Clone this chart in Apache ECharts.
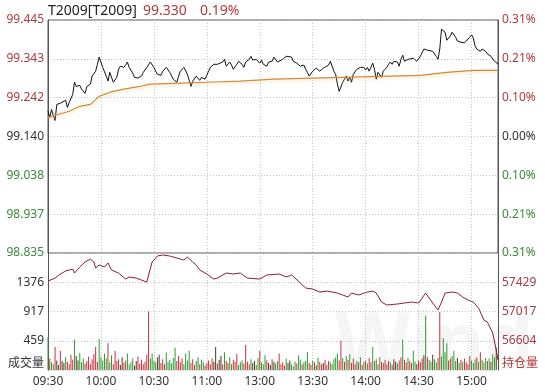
<!DOCTYPE html>
<html>
<head>
<meta charset="utf-8">
<script src="https://cdn.jsdelivr.net/npm/echarts@6/dist/echarts.min.js"></script>
<style>
html,body{margin:0;padding:0;background:#fff;}
#main{width:545px;height:392px;}
</style>
</head>
<body>
<div id="main"></div>
<script>
var timeLabels = ['09:30','10:00','10:30','11:00','13:00','13:30','14:00','14:30','15:00'];
var priceTicks = ['98.835','98.937','99.038','99.140','99.242','99.343','99.445'];
var pctTicks = ['0.31%','0.21%','0.10%','0.00%','0.10%','0.21%','0.31%'];
var volTicks = ['','459','917','1376',''];
var oiTicks = ['','56604','57017','57429',''];
var preClose = 99.140;

// minute index (0 = 09:30, 120 = 11:30/13:00, 255 = 15:15)
var priceMin = [0,1,2,3,4,5,7,8,10,11,12,14,15,16,18,19,21,22,24,25,27,28,29,31,33,34,35,37,39,40,
  41,43,44,45,46,48,49,51,53,54,56,58,60,61,62,64,65,67,69,71,73,74,75,77,79,80,81,82,84,86,
  87,89,91,92,94,96,97,99,100,101,103,104,105,107,108,110,111,112,114,115,116,118,119,120,121,122,124,125,127,128,
  129,130,131,133,135,136,138,139,141,142,143,144,145,146,147,148,150,151,152,153,154,156,157,159,160,161,162,163,164,165,
  167,168,169,170,171,172,173,175,176,177,178,179,180,181,182,184,185,186,187,188,189,190,192,193,194,195,196,198,199,200,
  201,202,204,205,207,208,209,210,211,213,214,215,216,218,219,220,221,222,223,224,225,226,227,228,229,231,232,233,234,235,
  236,237,239,240,241,242,243,244,245,246,248,249,250,251,252,253,254,255];
var priceVal = [99.206,99.190,99.211,99.195,99.182,99.224,99.227,99.232,99.235,99.216,99.229,99.250,99.282,99.271,99.274,99.264,99.253,99.271,99.277,99.298,99.311,99.329,99.348,99.321,99.298,99.285,99.308,99.282,99.295,99.316,
  99.324,99.321,99.327,99.335,99.321,99.306,99.295,99.293,99.298,99.308,99.321,99.335,99.321,99.311,99.303,99.300,99.311,99.321,99.308,99.290,99.282,99.298,99.311,99.321,99.303,99.287,99.271,99.285,99.298,99.287,
  99.295,99.290,99.311,99.321,99.329,99.329,99.332,99.335,99.342,99.324,99.335,99.327,99.316,99.329,99.337,99.329,99.321,99.335,99.342,99.350,99.340,99.342,99.337,99.332,99.340,99.329,99.324,99.335,99.337,99.348,
  99.350,99.335,99.332,99.342,99.350,99.345,99.348,99.337,99.332,99.337,99.324,99.319,99.327,99.316,99.308,99.298,99.311,99.306,99.319,99.321,99.311,99.319,99.321,99.327,99.337,99.324,99.311,99.303,99.277,99.258,
  99.282,99.277,99.298,99.285,99.295,99.282,99.303,99.316,99.311,99.321,99.316,99.321,99.314,99.321,99.311,99.332,99.316,99.290,99.308,99.303,99.295,99.311,99.321,99.329,99.335,99.329,99.337,99.335,99.324,99.342,
  99.353,99.337,99.342,99.337,99.345,99.340,99.337,99.337,99.350,99.369,99.369,99.366,99.369,99.363,99.361,99.350,99.342,99.369,99.421,99.416,99.413,99.392,99.387,99.403,99.413,99.400,99.390,99.390,99.387,99.392,
  99.385,99.390,99.400,99.406,99.398,99.377,99.369,99.374,99.363,99.369,99.363,99.356,99.361,99.350,99.348,99.337,99.332,99.330];

var avgMin = [0,12,18,24,29,35,43,52,58,71,90,109,128,150,194,211,226,241,255];
var avgVal = [99.190,99.206,99.219,99.224,99.245,99.256,99.264,99.271,99.277,99.279,99.282,99.285,99.290,99.293,99.298,99.300,99.308,99.313,99.313];

var oiMin = [0,4,7,10,14,15,18,21,24,26,27,29,32,34,36,40,44,46,50,53,56,57,59,62,65,66,69,73,77,79,
  82,84,86,90,94,96,101,105,109,113,120,124,131,135,138,140,143,146,150,154,158,164,167,170,172,176,181,184,186,189,
  192,198,202,206,210,212,214,215,218,221,223,225,229,232,235,238,241,244,247,249,252,254,255];
var oiVal = [57446,57488,57545,57587,57615,57559,57644,57714,57756,57714,57630,57672,57644,57700,57601,57559,57474,57503,57488,57460,57432,57531,57714,57799,57813,57785,57799,57770,57742,57785,
  57714,57672,57601,57545,57474,57488,57559,57545,57559,57488,57474,57531,57545,57503,57531,57488,57418,57348,57333,57291,57305,57277,57249,57221,57277,57249,57291,57305,57277,57150,
  57108,57122,57136,57150,57136,57206,57277,57249,57136,57037,57150,57277,57291,57277,57221,57178,57150,57065,56896,56868,56713,56473,56332];

var volume = [520,180,120,90,360,150,80,300,140,110,
  200,130,90,240,160,480,220,150,270,120,
  180,100,140,210,90,170,250,360,130,490,
  200,150,260,180,420,120,230,90,300,140,
  170,80,200,110,150,260,90,120,180,70,
  140,210,100,160,90,130,240,917,180,260,
  150,120,200,240,110,170,90,280,130,160,
  100,190,350,140,220,120,180,90,260,150,
  300,110,170,80,140,200,90,160,120,70,
  110,150,90,180,130,360,100,160,220,90,
  280,140,110,200,90,160,130,250,80,120,
  150,100,390,130,90,170,110,140,80,190,
  300,120,90,230,150,110,80,170,130,100,
  140,260,90,120,70,180,110,150,90,60,
  130,100,230,160,90,120,140,280,110,80,
  150,120,70,190,130,90,110,160,80,140,
  120,90,170,200,260,150,460,190,130,220,
  160,250,110,180,90,140,120,200,80,130,
  150,100,190,120,360,140,170,90,200,130,
  110,160,90,140,120,80,170,130,100,150,
  200,480,160,120,190,140,110,300,130,90,
  150,120,180,230,850,200,160,130,240,170,
  120,190,910,210,500,280,420,150,180,220,
  300,140,190,110,160,130,180,120,90,220,
  150,110,170,200,130,280,160,120,190,140,
  180,130,250,200,350];

var red = '#b03a3a', green = '#3a8a3a', dark = '#333';

function priceAt(m) {
  for (var i = 1; i < priceMin.length; i++) {
    if (priceMin[i] >= m) {
      var t = (m - priceMin[i - 1]) / (priceMin[i] - priceMin[i - 1]);
      return priceVal[i - 1] + t * (priceVal[i] - priceVal[i - 1]);
    }
  }
  return priceVal[priceVal.length - 1];
}

// bar colour follows the price move in that minute
var volData = volume.map(function (v, i) {
  var d = priceAt(i + 1) - priceAt(i);
  var c = Math.abs(d) < 0.002 ? '#4a3a20' : (d > 0 ? '#c8323a' : '#2f9a2f');
  return { value: [i, v], itemStyle: { color: c } };
});

var pMin = 98.835, pMax = 99.445;
var pctMax = (pMax / preClose - 1) * 100;

var myChart = echarts.init(document.getElementById('main'));
var option = {
  animation: false,
  textStyle: { fontFamily: 'Noto Sans' },
  grid: [
    { left: 48, right: 47, top: 20, height: 233, show: true, borderColor: '#555', borderWidth: 1 },
    { left: 48, right: 47, top: 253, height: 117 }
  ],
  graphic: [
    { type: 'text', z: 0, silent: true, left: 335, top: 308,
      style: { text: 'Wind', fontSize: 78, fontWeight: 'bold', fill: 'rgba(0,0,0,0.035)', fontFamily: 'Noto Sans' } },
    { type: 'text', x: 48, y: 11, style: { text: 'T2009[T2009]', fontSize: 14, fill: '#222', textVerticalAlign: 'middle', fontFamily: 'Noto Sans' } },
    { type: 'text', x: 143, y: 11, style: { text: '99.330', fontSize: 14, fill: red, textVerticalAlign: 'middle', fontFamily: 'Noto Sans' } },
    { type: 'text', x: 200, y: 11, style: { text: '0.19%', fontSize: 14, fill: red, textVerticalAlign: 'middle', fontFamily: 'Noto Sans' } },
    { type: 'text', x: 44, y: 362, style: { text: '成交量', fontSize: 12, fill: '#333', textAlign: 'right', textVerticalAlign: 'middle', fontFamily: 'Noto Sans CJK SC' } },
    { type: 'text', x: 502, y: 362, style: { text: '持仓量', fontSize: 12, fill: red, textVerticalAlign: 'middle', fontFamily: 'Noto Sans CJK SC' } }
  ],
  xAxis: [
    { gridIndex: 0, type: 'value', min: 0, max: 255, interval: 30,
      axisLine: { show: false }, axisTick: { show: false }, axisLabel: { show: false },
      splitLine: { show: true, lineStyle: { color: '#c4c4c4', type: [1, 2] } } },
    { gridIndex: 1, type: 'value', min: 0, max: 255, interval: 30,
      axisLine: { show: false }, axisTick: { show: false },
      axisLabel: { show: true, margin: 6, fontSize: 12, color: '#333', align: 'center',
        formatter: function (v) { return timeLabels[Math.round(v / 30)] || ''; } },
      splitLine: { show: true, lineStyle: { color: '#c4c4c4', type: [1, 2] } } }
  ],
  yAxis: [
    { gridIndex: 0, type: 'value', position: 'left', min: pMin, max: pMax, interval: (pMax - pMin) / 6,
      axisLine: { show: true, lineStyle: { color: '#555' } }, axisTick: { show: false },
      axisLabel: { margin: 4, fontSize: 12,
        formatter: function (v, i) { return priceTicks[i]; },
        color: function (v, i) { return i < 3 ? green : (i === 3 ? dark : red); } },
      splitLine: { show: true, lineStyle: { color: '#c4c4c4', type: [1, 2] } } },
    { gridIndex: 0, type: 'value', position: 'right', min: -pctMax, max: pctMax, interval: pctMax / 3,
      axisLine: { show: true, lineStyle: { color: '#555' } }, axisTick: { show: false },
      axisLabel: { margin: 4, fontSize: 12,
        formatter: function (v, i) { return pctTicks[i]; },
        color: function (v, i) { return i < 3 ? green : (i === 3 ? dark : red); } },
      splitLine: { show: false } },
    { gridIndex: 1, type: 'value', position: 'left', min: 0, max: 1834, interval: 458.5,
      axisLine: { show: true, lineStyle: { color: '#555' } }, axisTick: { show: false },
      axisLabel: { margin: 4, fontSize: 12, color: '#333',
        formatter: function (v, i) { return volTicks[i] || ''; } },
      splitLine: { show: true, lineStyle: { color: '#c4c4c4', type: [1, 2] } } },
    { gridIndex: 1, type: 'value', position: 'right', min: 56191.5, max: 57841.5, interval: 412.5,
      axisLine: { show: true, lineStyle: { color: '#555' } }, axisTick: { show: false },
      axisLabel: { margin: 4, fontSize: 12, color: '#a63a4a',
        formatter: function (v, i) { return oiTicks[i] || ''; } },
      splitLine: { show: false } }
  ],
  series: [
    { name: '价格', type: 'line', xAxisIndex: 0, yAxisIndex: 0, symbol: 'none',
      lineStyle: { color: '#111', width: 1 },
      data: priceMin.map(function (m, i) { return [m, priceVal[i]]; }) },
    { name: '均价', type: 'line', xAxisIndex: 0, yAxisIndex: 0, symbol: 'none',
      lineStyle: { color: '#d08a3a', width: 1.2, shadowColor: 'rgba(245,200,120,0.5)', shadowBlur: 3, shadowOffsetY: 2 },
      data: avgMin.map(function (m, i) { return [m, avgVal[i]]; }) },
    { name: '成交量', type: 'bar', xAxisIndex: 1, yAxisIndex: 2, barWidth: 1,
      data: volData },
    { name: '持仓量', type: 'line', xAxisIndex: 1, yAxisIndex: 3, symbol: 'none',
      lineStyle: { color: '#8c1c3c', width: 1 },
      data: oiMin.map(function (m, i) { return [m, oiVal[i]]; }) }
  ]
};
myChart.setOption(option);
</script>
</body>
</html>
